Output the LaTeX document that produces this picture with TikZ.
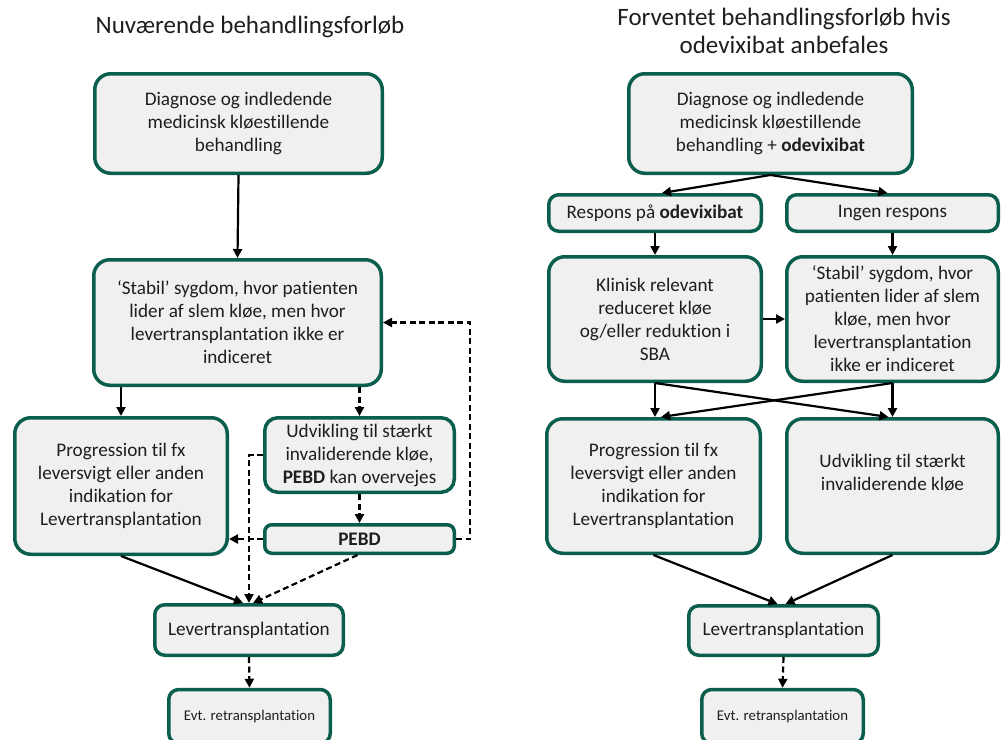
\documentclass[tikz,border=0pt]{standalone}
\usepackage{fontspec}
\setmainfont{Carlito}[Ligatures=NoCommon]
\usetikzlibrary{arrows.meta,calc}
\definecolor{bordergreen}{RGB}{10,94,78}
\definecolor{boxfill}{RGB}{240,240,240}
\definecolor{txt}{RGB}{30,30,30}
\tikzset{
  box/.style={draw=bordergreen, fill=boxfill, line width=3.5pt, rounded corners=16pt,
    inner sep=0pt, align=center, text=txt, font=\fontsize{19.2}{23}\selectfont},
  smallbox/.style={box, rounded corners=10pt},
  title/.style={align=center, text=txt, font=\fontsize{25}{28}\selectfont},
  conn/.style={line width=2.2pt, -{Triangle[length=9pt,width=9pt]}},
  dconn/.style={conn, dash pattern=on 6pt off 3.5pt},
}
\begin{document}
\begin{tikzpicture}[x=1pt,y=-1pt]
\useasboundingbox (0,0) rectangle (1001,739);
\clip (0,0) rectangle (1001,739);
\fill[white] (0,0) rectangle (1001,739);

% titles
\node[title] (tL) at (250,27) {Nuværende behandlingsforløb};
\node[title] (tR) at (784,31) {Forventet behandlingsforløb hvis\\odevixibat anbefales};

% left column
\node[box, minimum width=287.5pt, minimum height=99.5pt] (L1) at (238.5,123.5)
  {Diagnose og indledende\\medicinsk kløestillende\\behandling};
\node[box, minimum width=287.5pt, minimum height=125.5pt] (L2) at (237.5,322.5)
  {‘Stabil’ sygdom, hvor patienten\\lider af slem kløe, men hvor\\levertransplantation ikke er\\indiceret};
\node[box, minimum width=212.5pt, minimum height=136.5pt] (L3) at (121,486)
  {Progression til fx\\leversvigt eller anden\\indikation for\\Levertransplantation};
\node[box, rounded corners=13pt, minimum width=189.5pt, minimum height=74.5pt] (L4) at (359.5,455)
  {Udvikling til stærkt\\invaliderende kløe,\\\textbf{PEBD} kan overvejes};
\node[smallbox, rounded corners=7pt, minimum width=189.5pt, minimum height=28.5pt] (PEBD) at (359.5,539)
  {\textbf{PEBD}};
\node[smallbox, minimum width=188.5pt, minimum height=50.5pt] (LevL) at (249,630)
  {Levertransplantation};
\node[smallbox, minimum width=161.5pt, minimum height=54pt, font=\fontsize{14.8}{17}\selectfont] (EvtL) at (249.5,716.5)
  {Evt. retransplantation};

% right column
\node[box, minimum width=283.5pt, minimum height=99.5pt] (R1) at (770.5,123.5)
  {Diagnose og indledende\\medicinsk kløestillende\\behandling + \textbf{odevixibat}};
\node[smallbox, minimum width=212.5pt, minimum height=36.5pt] (Resp) at (655,213)
  {Respons på \textbf{odevixibat}};
\node[smallbox, minimum width=211.5pt, minimum height=36.5pt] (Ingen) at (892.5,213)
  {Ingen respons};
\node[box, minimum width=212.5pt, minimum height=124.5pt] (Klin) at (655,319)
  {Klinisk relevant\\reduceret kløe\\og/eller reduktion i\\SBA};
\node[box, minimum width=211.5pt, minimum height=124.5pt] (StabR) at (892.5,319)
  {‘Stabil’ sygdom, hvor\\patienten lider af slem\\kløe, men hvor\\levertransplantation\\ikke er indiceret};
\node[box, minimum width=213.5pt, minimum height=134.5pt] (ProgR) at (653.5,486)
  {Progression til fx\\leversvigt eller anden\\indikation for\\Levertransplantation};
\node[box, minimum width=211.5pt, minimum height=134.5pt] (UdvR) at (892.5,486)
  {Udvikling til stærkt\\invaliderende kløe\\[4pt]};
\node[smallbox, minimum width=189.5pt, minimum height=49.5pt] (LevR) at (783.5,630.5)
  {Levertransplantation};
\node[smallbox, minimum width=161.5pt, minimum height=54pt, font=\fontsize{14.8}{17}\selectfont] (EvtR) at (782.5,716.5)
  {Evt. retransplantation};

% left connectors
\draw[conn] (L1.south) -- (L2.north);
\draw[conn] (L3.north |- L2.south) -- (L3.north);
\draw[dconn] (L4.north |- L2.south) -- (L4.north);
\draw[dconn] (L4.south) -- (PEBD.north);
\draw[dconn] (PEBD.east) -- ++(14,0) |- (L2.east);
\draw[dconn] (PEBD.west) -- (PEBD.west -| L3.east);
\draw[dconn] (L4.west) -| (LevL.north);
\draw[dconn] ($(PEBD.south)+(-2,0)$) -- ($(LevL.north)+(4,0)$);
\draw[conn] (L3.south) -- ($(LevL.north)+(-6,0)$);
\draw[dconn] (LevL.south) -- (EvtL.north);

% right connectors
\draw[conn] (R1.south) -- ($(Resp.north)+(7,0)$);
\draw[conn] (R1.south) -- ($(Ingen.north)+(-5,0)$);
\draw[conn] (Resp.south) -- (Klin.north);
\draw[conn] (Ingen.south) -- (StabR.north);
\draw[conn] (Klin.east) -- (StabR.west);
\draw[conn] (Klin.south) -- (Klin.south |- ProgR.north);
\draw[conn] (StabR.south) -- (StabR.south |- UdvR.north);
\draw[conn] (Klin.south) -- ($(StabR.south |- UdvR.north)+(-4,0)$);
\draw[conn] (StabR.south) -- ($(Klin.south |- ProgR.north)+(6,0)$);
\draw[conn] (ProgR.south) -- ($(LevR.north)+(-6,0)$);
\draw[conn] (UdvR.south) -- ($(LevR.north)+(2,0)$);
\draw[dconn] (LevR.south) -- (EvtR.north);
\end{tikzpicture}
\end{document}
